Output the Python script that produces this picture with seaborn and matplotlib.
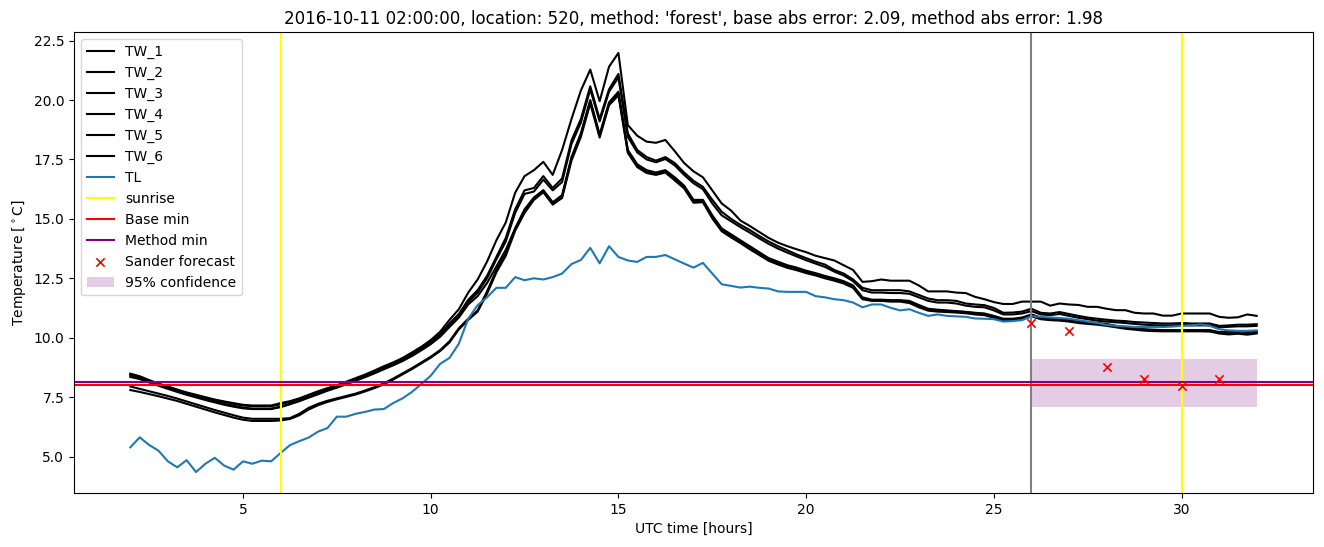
import numpy as np
import pandas as pd
import matplotlib
matplotlib.use("Agg")
import matplotlib.pyplot as plt
import seaborn as sns

# ---------------- data ----------------
hours = np.linspace(2, 32, 121)

tw_1 = [8.49, 8.38, 8.22, 8.07, 7.95, 7.82, 7.70, 7.60,
        7.50, 7.40, 7.32, 7.25, 7.18, 7.15, 7.15, 7.15,
        7.25, 7.33, 7.45, 7.60, 7.75, 7.88, 8.00, 8.15,
        8.30, 8.45, 8.62, 8.80, 8.96, 9.15, 9.38, 9.62,
        9.90, 10.25, 10.75, 11.20, 11.90, 12.45, 13.20, 14.10,
        14.85, 16.10, 16.80, 17.05, 17.40, 16.85, 17.90, 19.20,
        20.40, 21.28, 19.95, 21.40, 21.98, 18.95, 18.50, 18.25,
        18.20, 18.32, 17.85, 17.35, 17.00, 16.75, 16.20, 15.65,
        15.35, 14.93, 14.70, 14.45, 14.20, 14.00, 13.85, 13.72,
        13.60, 13.45, 13.35, 13.25, 13.05, 12.85, 12.35, 12.38,
        12.45, 12.40, 12.40, 12.40, 12.20, 11.95, 11.95, 11.95,
        11.90, 11.88, 11.72, 11.62, 11.50, 11.42, 11.42, 11.52,
        11.52, 11.52, 11.35, 11.44, 11.40, 11.38, 11.30, 11.30,
        11.22, 11.16, 11.16, 11.05, 11.02, 11.02, 10.93, 10.93,
        11.02, 11.02, 11.02, 11.02, 10.88, 10.84, 10.86, 10.98,
        10.92]

tw_2 = [8.45, 8.35, 8.20, 8.05, 7.92, 7.80, 7.68, 7.57,
        7.47, 7.38, 7.30, 7.22, 7.15, 7.12, 7.12, 7.12,
        7.20, 7.30, 7.42, 7.57, 7.72, 7.85, 7.98, 8.12,
        8.27, 8.42, 8.58, 8.75, 8.92, 9.10, 9.32, 9.56,
        9.82, 10.15, 10.60, 11.00, 11.60, 12.00, 12.60, 13.40,
        14.20, 15.40, 16.20, 16.30, 16.80, 16.30, 16.70, 18.30,
        19.20, 20.58, 19.20, 20.45, 21.10, 18.60, 17.90, 17.60,
        17.45, 17.60, 17.35, 16.95, 16.60, 16.35, 15.80, 15.30,
        15.00, 14.75, 14.53, 14.28, 14.05, 13.85, 13.68, 13.50,
        13.35, 13.20, 13.08, 12.85, 12.70, 12.45, 12.10, 12.00,
        12.00, 12.00, 12.00, 11.95, 11.80, 11.65, 11.58, 11.58,
        11.55, 11.44, 11.40, 11.37, 11.25, 11.05, 11.06, 11.10,
        11.22, 11.05, 11.02, 11.08, 11.00, 10.92, 10.85, 10.80,
        10.76, 10.72, 10.70, 10.66, 10.64, 10.62, 10.60, 10.60,
        10.62, 10.60, 10.60, 10.60, 10.50, 10.52, 10.55, 10.55,
        10.57]

tw_3 = [8.40, 8.30, 8.16, 8.01, 7.88, 7.75, 7.63, 7.52,
        7.42, 7.32, 7.22, 7.14, 7.06, 7.02, 7.02, 7.02,
        7.10, 7.22, 7.35, 7.50, 7.65, 7.80, 7.93, 8.07,
        8.22, 8.37, 8.52, 8.70, 8.86, 9.04, 9.26, 9.50,
        9.76, 10.08, 10.50, 10.90, 11.50, 11.90, 12.50, 13.30,
        14.05, 15.25, 16.05, 16.15, 16.65, 16.20, 16.55, 18.15,
        19.05, 20.45, 19.10, 20.35, 20.95, 18.45, 17.80, 17.50,
        17.38, 17.52, 17.25, 16.85, 16.50, 16.25, 15.65, 15.15,
        14.90, 14.65, 14.42, 14.18, 13.95, 13.75, 13.58, 13.42,
        13.26, 13.12, 12.98, 12.78, 12.62, 12.38, 12.00, 11.90,
        11.90, 11.88, 11.88, 11.85, 11.70, 11.55, 11.48, 11.48,
        11.44, 11.35, 11.30, 11.28, 11.15, 10.98, 10.98, 11.02,
        11.12, 10.98, 10.95, 11.00, 10.92, 10.84, 10.78, 10.72,
        10.68, 10.65, 10.62, 10.58, 10.55, 10.53, 10.52, 10.52,
        10.54, 10.52, 10.52, 10.52, 10.44, 10.46, 10.48, 10.48,
        10.50]

tw_4 = [8.35, 8.26, 8.12, 7.98, 7.85, 7.72, 7.60, 7.49,
        7.38, 7.28, 7.18, 7.10, 7.03, 7.00, 7.00, 7.00,
        7.08, 7.20, 7.33, 7.48, 7.62, 7.77, 7.90, 8.04,
        8.19, 8.34, 8.50, 8.67, 8.84, 9.02, 9.23, 9.47,
        9.73, 10.04, 10.45, 10.85, 11.40, 11.75, 12.30, 13.00,
        13.70, 14.60, 15.40, 15.90, 16.20, 15.70, 16.00, 17.60,
        18.60, 20.00, 18.55, 19.90, 20.35, 17.90, 17.30, 17.05,
        16.95, 17.05, 16.75, 16.40, 15.80, 15.80, 15.15, 14.60,
        14.35, 14.10, 13.85, 13.60, 13.35, 13.20, 13.05, 12.95,
        12.82, 12.72, 12.60, 12.50, 12.38, 12.20, 11.70, 11.60,
        11.60, 11.58, 11.58, 11.55, 11.38, 11.22, 11.18, 11.15,
        11.12, 11.09, 11.05, 11.02, 10.92, 10.80, 10.80, 10.85,
        10.98, 10.85, 10.80, 10.78, 10.74, 10.70, 10.66, 10.62,
        10.58, 10.50, 10.45, 10.40, 10.36, 10.34, 10.32, 10.32,
        10.32, 10.32, 10.32, 10.32, 10.24, 10.25, 10.28, 10.24,
        10.28]

tw_5 = [7.95, 7.85, 7.75, 7.65, 7.55, 7.44, 7.32, 7.20,
        7.08, 6.96, 6.85, 6.74, 6.64, 6.59, 6.59, 6.59,
        6.59, 6.62, 6.80, 7.05, 7.22, 7.35, 7.45, 7.55,
        7.65, 7.78, 7.92, 8.08, 8.28, 8.50, 8.72, 8.96,
        9.20, 9.48, 9.85, 10.40, 10.80, 11.15, 11.95, 12.85,
        13.55, 14.60, 15.35, 15.88, 16.20, 15.66, 15.95, 17.55,
        18.55, 19.95, 18.50, 19.85, 20.28, 17.85, 17.25, 17.00,
        16.90, 17.00, 16.70, 16.35, 15.75, 15.75, 15.10, 14.55,
        14.30, 14.05, 13.80, 13.55, 13.30, 13.15, 13.00, 12.90,
        12.78, 12.68, 12.56, 12.46, 12.33, 12.15, 11.65, 11.58,
        11.58, 11.56, 11.56, 11.50, 11.33, 11.18, 11.14, 11.12,
        11.10, 11.08, 11.03, 11.00, 10.88, 10.76, 10.76, 10.80,
        10.95, 10.82, 10.78, 10.75, 10.70, 10.66, 10.62, 10.60,
        10.55, 10.48, 10.42, 10.38, 10.33, 10.31, 10.30, 10.30,
        10.30, 10.30, 10.30, 10.30, 10.20, 10.18, 10.20, 10.16,
        10.22]

tw_6 = [7.80, 7.72, 7.63, 7.54, 7.44, 7.34, 7.22, 7.10,
        6.98, 6.86, 6.75, 6.64, 6.55, 6.50, 6.50, 6.50,
        6.52, 6.58, 6.74, 6.98, 7.16, 7.30, 7.41, 7.51,
        7.61, 7.74, 7.88, 8.04, 8.24, 8.46, 8.68, 8.92,
        9.16, 9.44, 9.80, 10.35, 10.75, 11.10, 11.85, 12.75,
        13.45, 14.50, 15.25, 15.80, 16.12, 15.60, 15.88, 17.45,
        18.45, 19.85, 18.42, 19.78, 20.20, 17.78, 17.18, 16.93,
        16.85, 16.95, 16.62, 16.28, 15.68, 15.70, 15.02, 14.48,
        14.22, 13.98, 13.72, 13.48, 13.24, 13.08, 12.94, 12.84,
        12.72, 12.62, 12.50, 12.40, 12.28, 12.10, 11.62, 11.55,
        11.55, 11.52, 11.52, 11.46, 11.28, 11.14, 11.10, 11.08,
        11.06, 11.03, 10.98, 10.95, 10.84, 10.74, 10.74, 10.78,
        10.90, 10.78, 10.74, 10.72, 10.68, 10.62, 10.58, 10.55,
        10.50, 10.44, 10.38, 10.34, 10.30, 10.28, 10.27, 10.27,
        10.27, 10.27, 10.27, 10.26, 10.18, 10.14, 10.17, 10.13,
        10.18]

tl = [5.39, 5.81, 5.49, 5.25, 4.80, 4.55, 4.85, 4.35,
      4.70, 4.95, 4.62, 4.45, 4.80, 4.70, 4.83, 4.80,
      5.15, 5.48, 5.65, 5.80, 6.05, 6.20, 6.68, 6.68,
      6.80, 6.88, 6.98, 7.00, 7.25, 7.45, 7.72, 8.05,
      8.40, 8.90, 9.15, 9.75, 10.80, 11.37, 11.70, 12.10,
      12.10, 12.55, 12.42, 12.50, 12.45, 12.55, 12.70, 13.10,
      13.27, 13.78, 13.13, 13.85, 13.40, 13.25, 13.19, 13.40,
      13.40, 13.48, 13.30, 13.12, 12.95, 13.15, 12.70, 12.25,
      12.18, 12.11, 12.15, 12.10, 12.07, 11.95, 11.93, 11.93,
      11.93, 11.75, 11.70, 11.62, 11.58, 11.48, 11.28, 11.40,
      11.40, 11.26, 11.15, 11.20, 11.05, 10.92, 10.98, 10.92,
      10.90, 10.88, 10.81, 10.80, 10.78, 10.68, 10.70, 10.74,
      10.90, 10.88, 10.85, 10.83, 10.80, 10.74, 10.68, 10.62,
      10.54, 10.50, 10.48, 10.45, 10.45, 10.45, 10.45, 10.47,
      10.50, 10.52, 10.56, 10.50, 10.36, 10.31, 10.29, 10.29,
      10.31]

sunrise_hours = [6, 30]
forecast_start = 26
base_min = 8.02
method_min = 8.13
sander_hours = [26, 27, 28, 29, 30, 31]
sander_values = [10.60, 10.30, 8.77, 8.28, 7.97, 8.28]
conf_hours = [26, 32]
conf_low = 7.08
conf_high = 9.12

title = ("2016-10-11 02:00:00, location: 520, method: 'forest', "
         "base abs error: 2.09, method abs error: 1.98")

# ---------------- plot ----------------
fig = plt.figure(figsize=(13.24, 5.47), dpi=100)
ax = fig.add_axes([0.0559, 0.0987, 0.9358, 0.8428])

tw_series = {"TW_1": tw_1, "TW_2": tw_2, "TW_3": tw_3,
             "TW_4": tw_4, "TW_5": tw_5, "TW_6": tw_6}
for name, vals in tw_series.items():
    df = pd.DataFrame({"hours": hours, "temp": vals})
    sns.lineplot(data=df, x="hours", y="temp", ax=ax, color="black",
                 lw=1.5, label=name, estimator=None)

df_tl = pd.DataFrame({"hours": hours, "temp": tl})
sns.lineplot(data=df_tl, x="hours", y="temp", ax=ax, color="#1f77b4",
             lw=1.5, label="TL", estimator=None)

for i, h in enumerate(sunrise_hours):
    ax.axvline(h, color="yellow", lw=1.5, label="sunrise" if i == 0 else None)
ax.axvline(forecast_start, color="gray", lw=1.5)

ax.axhline(base_min, color="red", lw=1.5, label="Base min")
ax.axhline(method_min, color="purple", lw=1.5, label="Method min")

sns.scatterplot(x=sander_hours, y=sander_values, ax=ax, marker="x",
                color="red", s=36, linewidth=1.2, label="Sander forecast",
                zorder=3)

ax.fill_between(conf_hours, conf_low, conf_high, color="purple",
                alpha=0.2, lw=0, label="95% confidence")

ax.set_title(title, fontsize=12)
ax.set_xlabel("UTC time [hours]")
ax.set_ylabel("Temperature [$^\\circ$C]")
ax.legend(loc="upper left")

fig.savefig("out.png", dpi=100)
